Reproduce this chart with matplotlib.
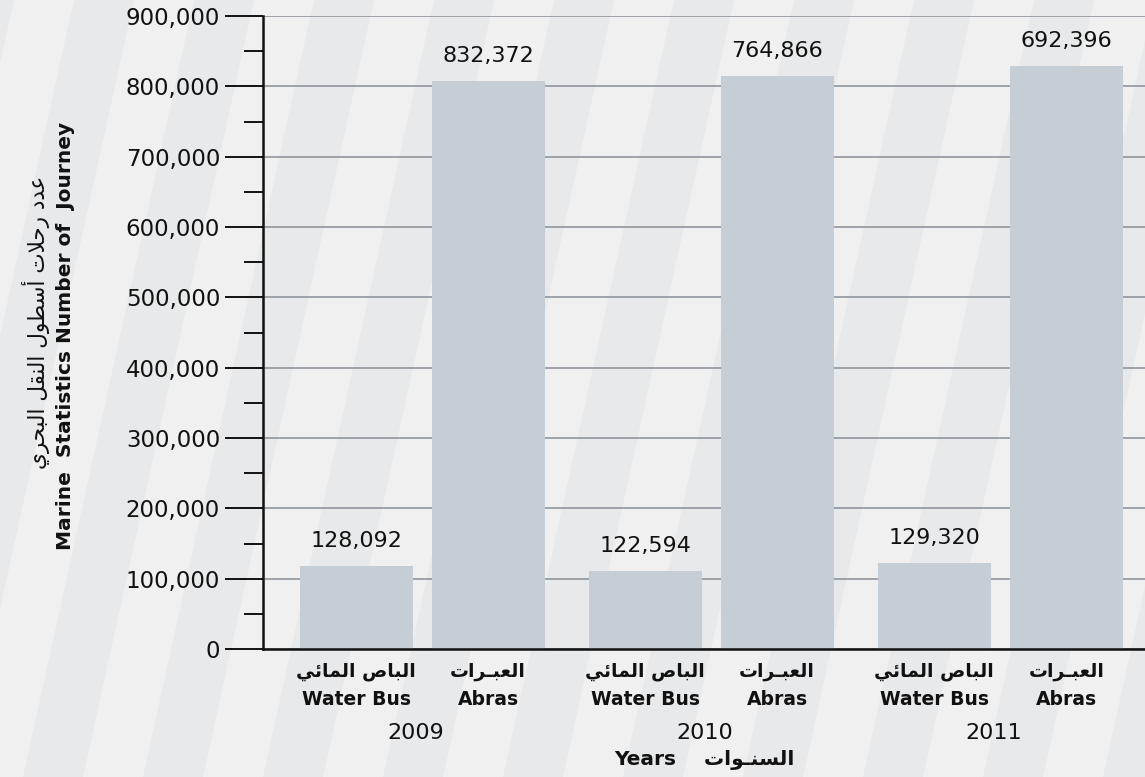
import numpy as np
import matplotlib
matplotlib.use("Agg")
import matplotlib.pyplot as plt
from matplotlib.patches import Polygon
from matplotlib.ticker import MultipleLocator, FuncFormatter

plt.rcParams["font.family"] = ["DejaVu Sans"]

# data
years = ["2009", "2010", "2011"]
modes_en = ["Water Bus", "Abras"]
modes_ar = ["الباص المائي", "العبـرات"]
water_bus = [118000, 111000, 122000]
abras = [808000, 815000, 829000]
water_bus_labels = ["128,092", "122,594", "129,320"]
abras_labels = ["832,372", "764,866", "692,396"]

ylabel_ar = "عدد رحلات أسطول النقل البحري"
ylabel_en = "Marine  Statistics Number of  Journey"
xlabel_ar = "السنـوات"
xlabel_en = "Years"

# --- minimal arabic shaping (presentation forms, visual order) ---
AR_FORMS = {
    "\u0627": (0xFE8D, 0xFE8E, None, None),
    "\u0623": (0xFE83, 0xFE84, None, None),
    "\u0628": (0xFE8F, 0xFE90, 0xFE91, 0xFE92),
    "\u062A": (0xFE95, 0xFE96, 0xFE97, 0xFE98),
    "\u062D": (0xFEA1, 0xFEA2, 0xFEA3, 0xFEA4),
    "\u062F": (0xFEA9, 0xFEAA, None, None),
    "\u0631": (0xFEAD, 0xFEAE, None, None),
    "\u0633": (0xFEB1, 0xFEB2, 0xFEB3, 0xFEB4),
    "\u0635": (0xFEB9, 0xFEBA, 0xFEBB, 0xFEBC),
    "\u0637": (0xFEC1, 0xFEC2, 0xFEC3, 0xFEC4),
    "\u0639": (0xFEC9, 0xFECA, 0xFECB, 0xFECC),
    "\u0642": (0xFED5, 0xFED6, 0xFED7, 0xFED8),
    "\u0644": (0xFEDD, 0xFEDE, 0xFEDF, 0xFEE0),
    "\u0645": (0xFEE1, 0xFEE2, 0xFEE3, 0xFEE4),
    "\u0646": (0xFEE5, 0xFEE6, 0xFEE7, 0xFEE8),
    "\u0648": (0xFEED, 0xFEEE, None, None),
    "\u064A": (0xFEF1, 0xFEF2, 0xFEF3, 0xFEF4),
    "\u0626": (0xFE89, 0xFE8A, 0xFE8B, 0xFE8C),
    "\u0640": (0x0640, 0x0640, 0x0640, 0x0640),
}
LAM_ALEF = {"\u0627": (0xFEFB, 0xFEFC), "\u0623": (0xFEF7, 0xFEF8)}


def shape_ar(text):
    units = []
    i = 0
    while i < len(text):
        c = text[i]
        if c == "\u0644" and i + 1 < len(text) and text[i + 1] in LAM_ALEF:
            units.append(("la", text[i + 1]))
            i += 2
        else:
            units.append(("ch", c))
            i += 1

    def dual(u):
        return u is not None and u[0] == "ch" and u[1] in AR_FORMS and AR_FORMS[u[1]][2] is not None

    def joining(u):
        return u is not None and (u[0] == "la" or u[1] in AR_FORMS)

    out = []
    for k, u in enumerate(units):
        prev = units[k - 1] if k > 0 else None
        nxt = units[k + 1] if k + 1 < len(units) else None
        p = dual(prev)
        if u[0] == "la":
            out.append(chr(LAM_ALEF[u[1]][1 if p else 0]))
            continue
        if u[1] not in AR_FORMS:
            out.append(u[1])
            continue
        isol, fina, init, medi = AR_FORMS[u[1]]
        n = init is not None and joining(nxt)
        if p and n:
            out.append(chr(medi))
        elif p:
            out.append(chr(fina))
        elif n:
            out.append(chr(init))
        else:
            out.append(chr(isol))
    return "".join(reversed(out))


W, H = 1145, 777
fig = plt.figure(figsize=(W / 100, H / 100), dpi=100)
fig.patch.set_facecolor("#f0f0f0")

# diagonal background stripes
slope = 0.22
for k in range(-4, 12):
    x0 = 23 + k * 120
    pts = [(x0, 0), (x0 + 60, 0), (x0 + 60 + slope * H, H), (x0 + slope * H, H)]
    pts = [(x / W, y / H) for x, y in pts]
    fig.add_artist(Polygon(pts, closed=True, transform=fig.transFigure,
                           facecolor="#e8e9ea", edgecolor="none", zorder=-10))

ax = fig.add_axes([263 / W, 1 - 649 / H, 1 - 263 / W, (649 - 16) / H])
ax.patch.set_alpha(0)

gap = 2.19
bw = 0.856
x_wb = np.arange(len(years)) * gap
x_ab = x_wb + 1

bars_wb = ax.bar(x_wb, water_bus, bw, color="#c5cdd5", zorder=2)
bars_ab = ax.bar(x_ab, abras, bw, color="#c5cdd5", zorder=2)

for bars, labels in [(bars_wb, water_bus_labels), (bars_ab, abras_labels)]:
    for b, lab in zip(bars, labels):
        ax.annotate(lab, (b.get_x() + b.get_width() / 2, b.get_height()),
                    xytext=(0, 18), textcoords="offset points",
                    ha="center", va="center", fontsize=16, color="#111111")

ax.set_ylim(0, 900000)
ax.set_xlim(-0.705, 5.977)
ax.yaxis.set_major_locator(MultipleLocator(100000))
ax.yaxis.set_minor_locator(MultipleLocator(50000))
ax.yaxis.set_major_formatter(FuncFormatter(lambda v, _: f"{v:,.0f}"))
ax.tick_params(axis="y", which="major", length=27.4, width=1.4, pad=3.5,
               labelsize=16.5, colors="#111111")
ax.tick_params(axis="y", which="minor", length=13.7, width=1.4, color="#111111")
ax.set_xticks([])
ax.grid(axis="y", which="major", color="#8f969d", linewidth=1.2, zorder=1)
ax.set_axisbelow(True)

for s in ["top", "right"]:
    ax.spines[s].set_visible(False)
for s in ["left", "bottom"]:
    ax.spines[s].set_linewidth(1.8)
    ax.spines[s].set_color("#111111")
    ax.spines[s].set_zorder(3)

# category labels under the bars
for idx, xs in enumerate((x_wb, x_ab)):
    for xv in xs:
        ax.text(xv, -0.036, shape_ar(modes_ar[idx]), transform=ax.get_xaxis_transform(),
                ha="center", va="center", fontsize=13.5, fontweight="bold", color="#111111")
        ax.text(xv, -0.079, modes_en[idx], transform=ax.get_xaxis_transform(),
                ha="center", va="center", fontsize=13.5, fontweight="bold", color="#111111")

for xv, yr in zip((x_wb + x_ab) / 2 - 0.05, years):
    ax.text(xv, -0.133, yr, transform=ax.get_xaxis_transform(),
            ha="center", va="center", fontsize=16, color="#111111")

fig.text(0.615, 1 - 760 / H, xlabel_en + "    " + shape_ar(xlabel_ar),
         ha="center", va="center", fontsize=14.5, fontweight="bold", color="#111111")

# two line y label
fig.text(36 / W, 1 - 322 / H, shape_ar(ylabel_ar), rotation=90,
         ha="center", va="center", fontsize=15.5, color="#111111")
fig.text(66 / W, 1 - 336 / H, ylabel_en, rotation=90,
         ha="center", va="center", fontsize=14.5, fontweight="bold", color="#111111")

fig.savefig("out.png", dpi=100, facecolor=fig.get_facecolor())
